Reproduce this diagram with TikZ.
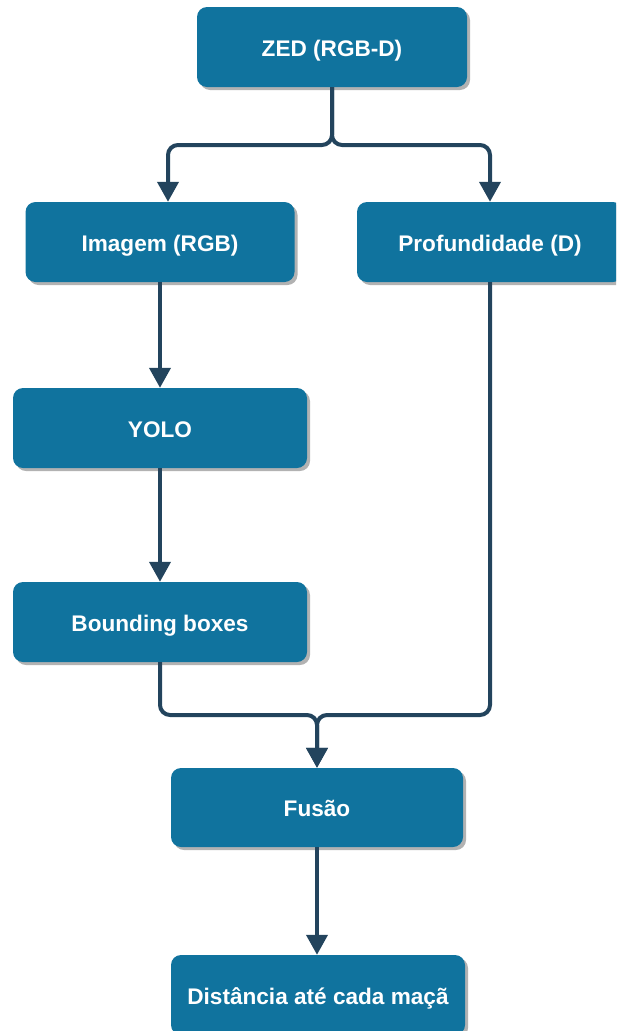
\documentclass[tikz,border=0pt]{standalone}
\usepackage{fontspec}
\setmainfont{Liberation Sans}
\usetikzlibrary{arrows.meta,shadows}
\definecolor{boxblue}{HTML}{10739E}
\definecolor{linedark}{HTML}{23445D}
\begin{document}
\begin{tikzpicture}[x=1pt,y=-1pt,
  flowbox/.style={rectangle, rounded corners=10pt, fill=boxblue, text=white,
    font=\fontsize{22.6}{26}\selectfont\bfseries, inner sep=0pt,
    text height=18pt, text depth=0pt,
    drop shadow={shadow xshift=3pt, shadow yshift=-3pt, opacity=0.3, fill=black}},
  conn/.style={draw=linedark, line width=4pt, rounded corners=10pt},
  arr/.style={conn, -{Triangle[width=21pt,length=20pt]}}]
\useasboundingbox (0,0) rectangle (616,1031);
\clip (0,0) rectangle (616,1031);
\node[flowbox, minimum width=270pt, minimum height=80pt] (zed) at (332,47) {ZED (RGB-D)};
\node[flowbox, minimum width=269pt, minimum height=80pt] (img) at (160,242) {Imagem (RGB)};
\node[flowbox, minimum width=266pt, minimum height=80pt] (prof) at (490,242) {Profundidade (D)};
\node[flowbox, minimum width=294pt, minimum height=80pt] (yolo) at (160,428) {YOLO};
\node[flowbox, minimum width=294pt, minimum height=80pt] (bb) at (160,622) {Bounding boxes};
\node[flowbox, minimum width=292pt, minimum height=79pt] (fus) at (317,807.5) {Fusão};
\node[flowbox, minimum width=294pt, minimum height=80pt] (dist) at (318,995) {Distância até cada maçã};
\coordinate (split) at (332,145);
\coordinate (merge) at (317,715);
\draw[arr] (zed.south) -- (split) -| ([xshift=8pt]img.north);
\draw[arr] (zed.south) -- (split) -| (prof.north);
\draw[arr] (img.south) -- (yolo.north);
\draw[arr] (yolo.south) -- (bb.north);
\draw[arr] (bb.south) |- (merge) -- (fus.north);
\draw[arr] (prof.south) |- (merge) -- (fus.north);
\draw[arr] (fus.south) -- ([xshift=-1pt]dist.north);
\end{tikzpicture}
\end{document}
